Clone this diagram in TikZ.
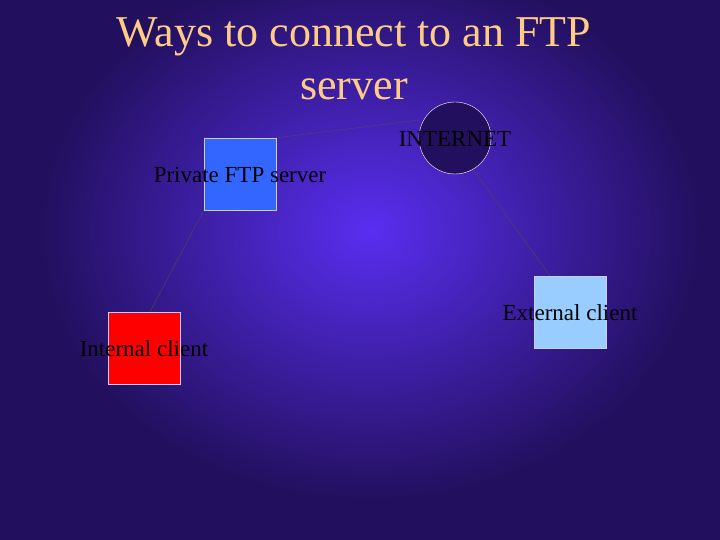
\documentclass[tikz,border=0pt]{standalone}
\usepackage{fontspec}
\setmainfont{Liberation Serif}
\begin{document}
\begin{tikzpicture}[x=1pt,y=-1pt,
  box/.style={draw=white!80!blue,line width=0.4pt,minimum size=72pt,inner sep=0pt},
  lab/.style={font=\fontsize{23}{25}\selectfont,text=black},
  link/.style={draw=black!70,line width=0.4pt}]
\definecolor{bgout}{HTML}{22105E}
\definecolor{bgin}{HTML}{5A2EF0}
\definecolor{titlec}{HTML}{FFCC88}
\useasboundingbox (0,0) rectangle (720,540);
\fill[bgout] (0,0) rectangle (720,540);
\shade[inner color=bgin,outer color=bgout] (40,-40) rectangle (700,500);
\node (t1) at (354,37) [text=titlec,font=\fontsize{44}{48}\selectfont] {Ways to connect to an FTP};
\node (t2) at (354,89) [text=titlec,font=\fontsize{44}{48}\selectfont] {server};
\node (net) at (455,138) [circle,draw=white,fill=bgout,minimum size=72pt,inner sep=0pt] {};
\node (ftp) at (240,174) [box,fill={rgb,255:red,51;green,102;blue,255}] {};
\node (int) at (144,348) [box,fill=red] {};
\node (ext) at (570,312) [box,fill={rgb,255:red,153;green,204;blue,255}] {};
\draw[link] (ftp.north east) -- (net.west |- 0,120);
\draw[link] (ftp.south west) -- ([xshift=6pt]int.north);
\draw[link] (net.-60) -- ([xshift=-20pt]ext.north);
\node[lab] (ln) at (455,139) {INTERNET};
\node[lab] (lf) at (240,175) {Private FTP server};
\node[lab] (li) at (144,349) {Internal client};
\node[lab] (le) at (570,313) {External client};
\end{tikzpicture}
\end{document}
